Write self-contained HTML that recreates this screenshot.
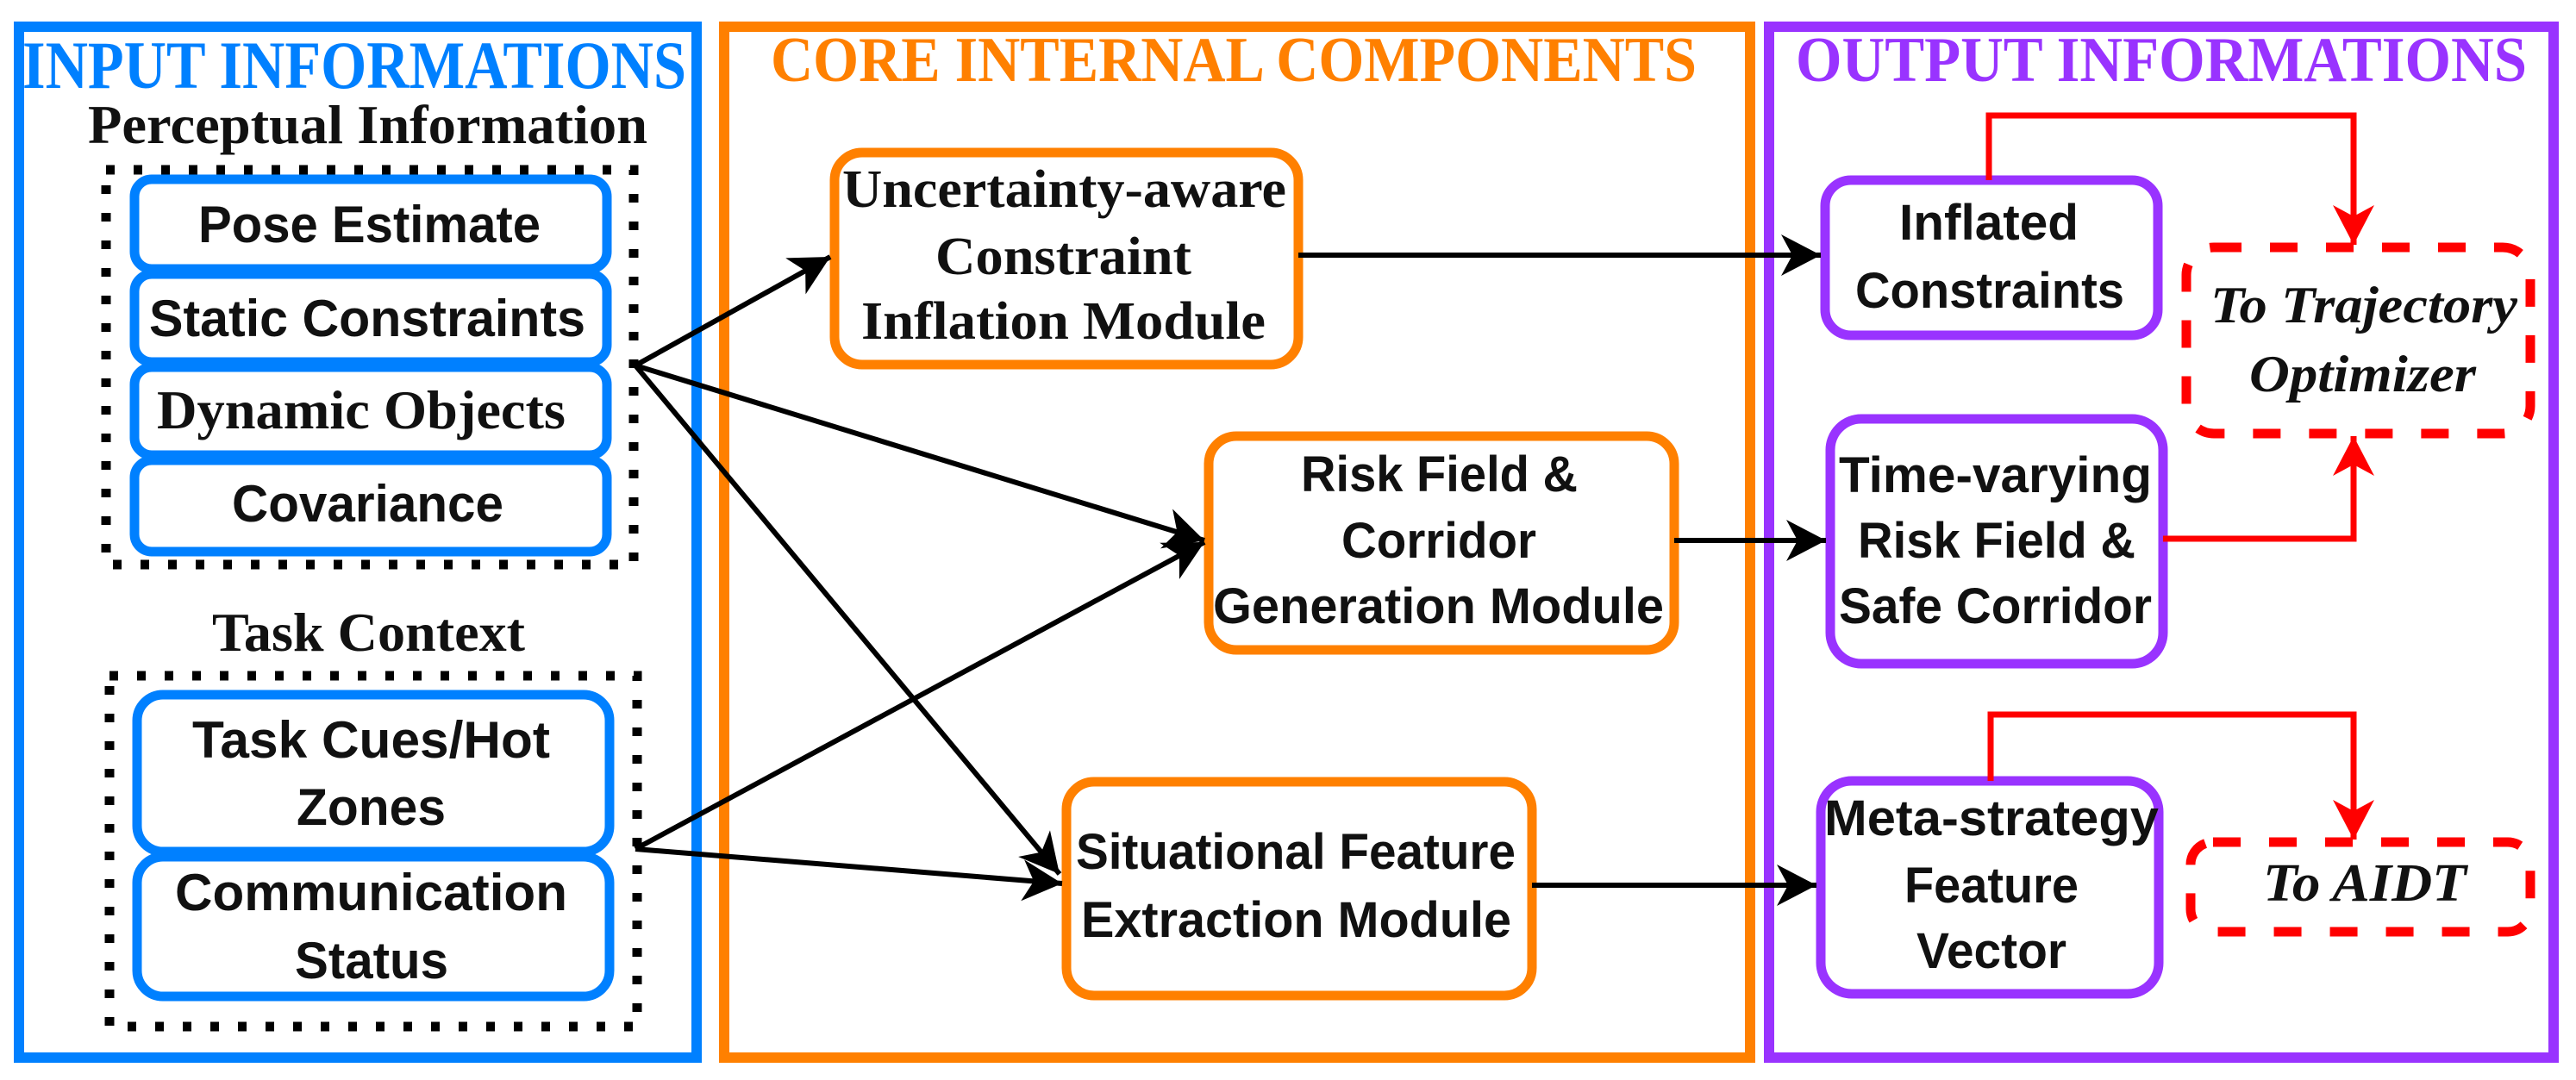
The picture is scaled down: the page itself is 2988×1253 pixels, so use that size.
<!DOCTYPE html>
<html><head><meta charset="utf-8"><style>
html,body{margin:0;padding:0;background:#fff;}
svg{display:block;}
.t{font-family:"Liberation Serif",serif;font-weight:bold;}
.s{font-family:"Liberation Sans",sans-serif;font-weight:bold;fill:#111;}
.ti{font-family:"Liberation Serif",serif;font-weight:bold;font-style:italic;fill:#111;}
</style></head><body>
<svg width="2988" height="1253" viewBox="0 0 2988 1253" xmlns="http://www.w3.org/2000/svg">
<defs>
<marker id="ab" markerUnits="userSpaceOnUse" markerWidth="56" markerHeight="56" refX="46" refY="24" orient="auto">
<path d="M0,0 L46,24 L0,48 L13,24 Z" fill="#000"/>
</marker>
<marker id="ar" markerUnits="userSpaceOnUse" markerWidth="56" markerHeight="56" refX="46" refY="24" orient="auto">
<path d="M0,0 L46,24 L0,48 L13,24 Z" fill="#f00"/>
</marker>
</defs>
<rect width="2988" height="1253" fill="#fff"/>
<rect x="22" y="31" width="786" height="1196" fill="none" stroke="#0080ff" stroke-width="12"/>
<rect x="840" y="31" width="1190" height="1196" fill="none" stroke="#ff8000" stroke-width="12"/>
<rect x="2052" y="31" width="910" height="1196" fill="none" stroke="#9933ff" stroke-width="12"/>
<text class="t" x="26" y="102" font-size="78" fill="#0080ff" textLength="770" lengthAdjust="spacingAndGlyphs">INPUT INFORMATIONS</text>
<text class="t" x="894" y="94" font-size="74" fill="#ff8000" textLength="1074" lengthAdjust="spacingAndGlyphs">CORE INTERNAL COMPONENTS</text>
<text class="t" x="2083" y="94" font-size="74" fill="#9933ff" textLength="848" lengthAdjust="spacingAndGlyphs">OUTPUT INFORMATIONS</text>
<text class="t" x="102" y="166" font-size="64" fill="#111" textLength="649" lengthAdjust="spacingAndGlyphs">Perceptual Information</text>
<rect x="123" y="197" width="612" height="458" fill="none" stroke="#000" stroke-width="11" stroke-dasharray="10 22"/>
<g fill="#fff" stroke="#0080ff" stroke-width="11">
<rect x="156" y="208" width="548" height="104" rx="20"/>
<rect x="156" y="318" width="548" height="102" rx="20"/>
<rect x="156" y="426" width="548" height="102" rx="20"/>
<rect x="156" y="534" width="548" height="106" rx="20"/>
<rect x="159" y="806" width="548" height="182" rx="30"/>
<rect x="159" y="994" width="548" height="162" rx="30"/>
</g>
<text class="s" x="230" y="281" font-size="60" textLength="397" lengthAdjust="spacingAndGlyphs">Pose Estimate</text>
<text class="s" x="173" y="390" font-size="60" textLength="506" lengthAdjust="spacingAndGlyphs">Static Constraints</text>
<text class="t" x="182" y="497" font-size="64" fill="#111" textLength="474" lengthAdjust="spacingAndGlyphs">Dynamic Objects</text>
<text class="s" x="269" y="605" font-size="60" textLength="315" lengthAdjust="spacingAndGlyphs">Covariance</text>
<text class="t" x="246" y="755" font-size="64" fill="#111" textLength="363" lengthAdjust="spacingAndGlyphs">Task Context</text>
<rect x="127" y="784" width="612" height="407" fill="none" stroke="#000" stroke-width="11" stroke-dasharray="10 22"/>
<text class="s" x="223" y="879" font-size="60" textLength="415" lengthAdjust="spacingAndGlyphs">Task Cues/Hot</text>
<text class="s" x="344" y="957" font-size="60" textLength="173" lengthAdjust="spacingAndGlyphs">Zones</text>
<text class="s" x="203" y="1056" font-size="60" textLength="455" lengthAdjust="spacingAndGlyphs">Communication</text>
<text class="s" x="342" y="1135" font-size="60" textLength="178" lengthAdjust="spacingAndGlyphs">Status</text>
<g fill="#fff" stroke="#ff8000" stroke-width="11">
<rect x="968" y="177" width="538" height="246" rx="32"/>
<rect x="1402" y="506" width="540" height="248" rx="32"/>
<rect x="1237" y="907" width="540" height="248" rx="32"/>
</g>
<text class="t" x="977" y="240" font-size="62" fill="#111" textLength="515" lengthAdjust="spacingAndGlyphs">Uncertainty-aware</text>
<text class="t" x="1085" y="318" font-size="62" fill="#111" textLength="297" lengthAdjust="spacingAndGlyphs">Constraint</text>
<text class="t" x="999" y="393" font-size="62" fill="#111" textLength="469" lengthAdjust="spacingAndGlyphs">Inflation Module</text>
<text class="s" x="1509" y="570" font-size="58" textLength="321" lengthAdjust="spacingAndGlyphs">Risk Field &amp;</text>
<text class="s" x="1556" y="647" font-size="58" textLength="226" lengthAdjust="spacingAndGlyphs">Corridor</text>
<text class="s" x="1407" y="723" font-size="58" textLength="523" lengthAdjust="spacingAndGlyphs">Generation Module</text>
<text class="s" x="1248" y="1008" font-size="58" textLength="510" lengthAdjust="spacingAndGlyphs">Situational Feature</text>
<text class="s" x="1254" y="1087" font-size="58" textLength="499" lengthAdjust="spacingAndGlyphs">Extraction Module</text>
<g fill="#fff" stroke="#9933ff" stroke-width="11">
<rect x="2117" y="209" width="386" height="180" rx="30"/>
<rect x="2123" y="486" width="386" height="284" rx="36"/>
<rect x="2112" y="906" width="392" height="247" rx="36"/>
</g>
<text class="s" x="2203" y="278" font-size="58" textLength="208" lengthAdjust="spacingAndGlyphs">Inflated</text>
<text class="s" x="2152" y="357" font-size="58" textLength="312" lengthAdjust="spacingAndGlyphs">Constraints</text>
<text class="s" x="2133" y="571" font-size="58" textLength="363" lengthAdjust="spacingAndGlyphs">Time-varying</text>
<text class="s" x="2155" y="647" font-size="58" textLength="322" lengthAdjust="spacingAndGlyphs">Risk Field &amp;</text>
<text class="s" x="2133" y="723" font-size="58" textLength="363" lengthAdjust="spacingAndGlyphs">Safe Corridor</text>
<text class="s" x="2116" y="969" font-size="58" textLength="388" lengthAdjust="spacingAndGlyphs">Meta-strategy</text>
<text class="s" x="2209" y="1047" font-size="58" textLength="202" lengthAdjust="spacingAndGlyphs">Feature</text>
<text class="s" x="2223" y="1123" font-size="58" textLength="174" lengthAdjust="spacingAndGlyphs">Vector</text>
<rect x="2536" y="287" width="399" height="216" rx="32" fill="none" stroke="#f00" stroke-width="11" stroke-dasharray="32 33"/>
<rect x="2541" y="977" width="394" height="104" rx="26" fill="none" stroke="#f00" stroke-width="11" stroke-dasharray="32 33"/>
<text class="ti" x="2564" y="374" font-size="60" textLength="356" lengthAdjust="spacingAndGlyphs">To Trajectory</text>
<text class="ti" x="2609" y="454" font-size="60" textLength="263" lengthAdjust="spacingAndGlyphs">Optimizer</text>
<text class="ti" x="2625" y="1045" font-size="62" textLength="236" lengthAdjust="spacingAndGlyphs">To AIDT</text>
<g fill="none" stroke="#f00" stroke-width="7">
<polyline points="2307,209 2307,134 2730,134 2730,284" marker-end="url(#ar)"/>
<polyline points="2509,625 2730,625 2730,506" marker-end="url(#ar)"/>
<polyline points="2309,906 2309,829 2730,829 2730,974" marker-end="url(#ar)"/>
</g>
<g fill="none" stroke="#000" stroke-width="6">
<line x1="737" y1="424" x2="963" y2="298" marker-end="url(#ab)"/>
<line x1="737" y1="424" x2="1397" y2="627" marker-end="url(#ab)"/>
<line x1="737" y1="424" x2="1229" y2="1014" marker-end="url(#ab)"/>
<line x1="737" y1="985" x2="1397" y2="629" marker-end="url(#ab)"/>
<line x1="737" y1="985" x2="1232" y2="1025" marker-end="url(#ab)"/>
<line x1="1506" y1="296" x2="2112" y2="296" marker-end="url(#ab)"/>
<line x1="1942" y1="627" x2="2118" y2="627" marker-end="url(#ab)"/>
<line x1="1777" y1="1027" x2="2107" y2="1027" marker-end="url(#ab)"/>
</g>
</svg>
</body></html>
